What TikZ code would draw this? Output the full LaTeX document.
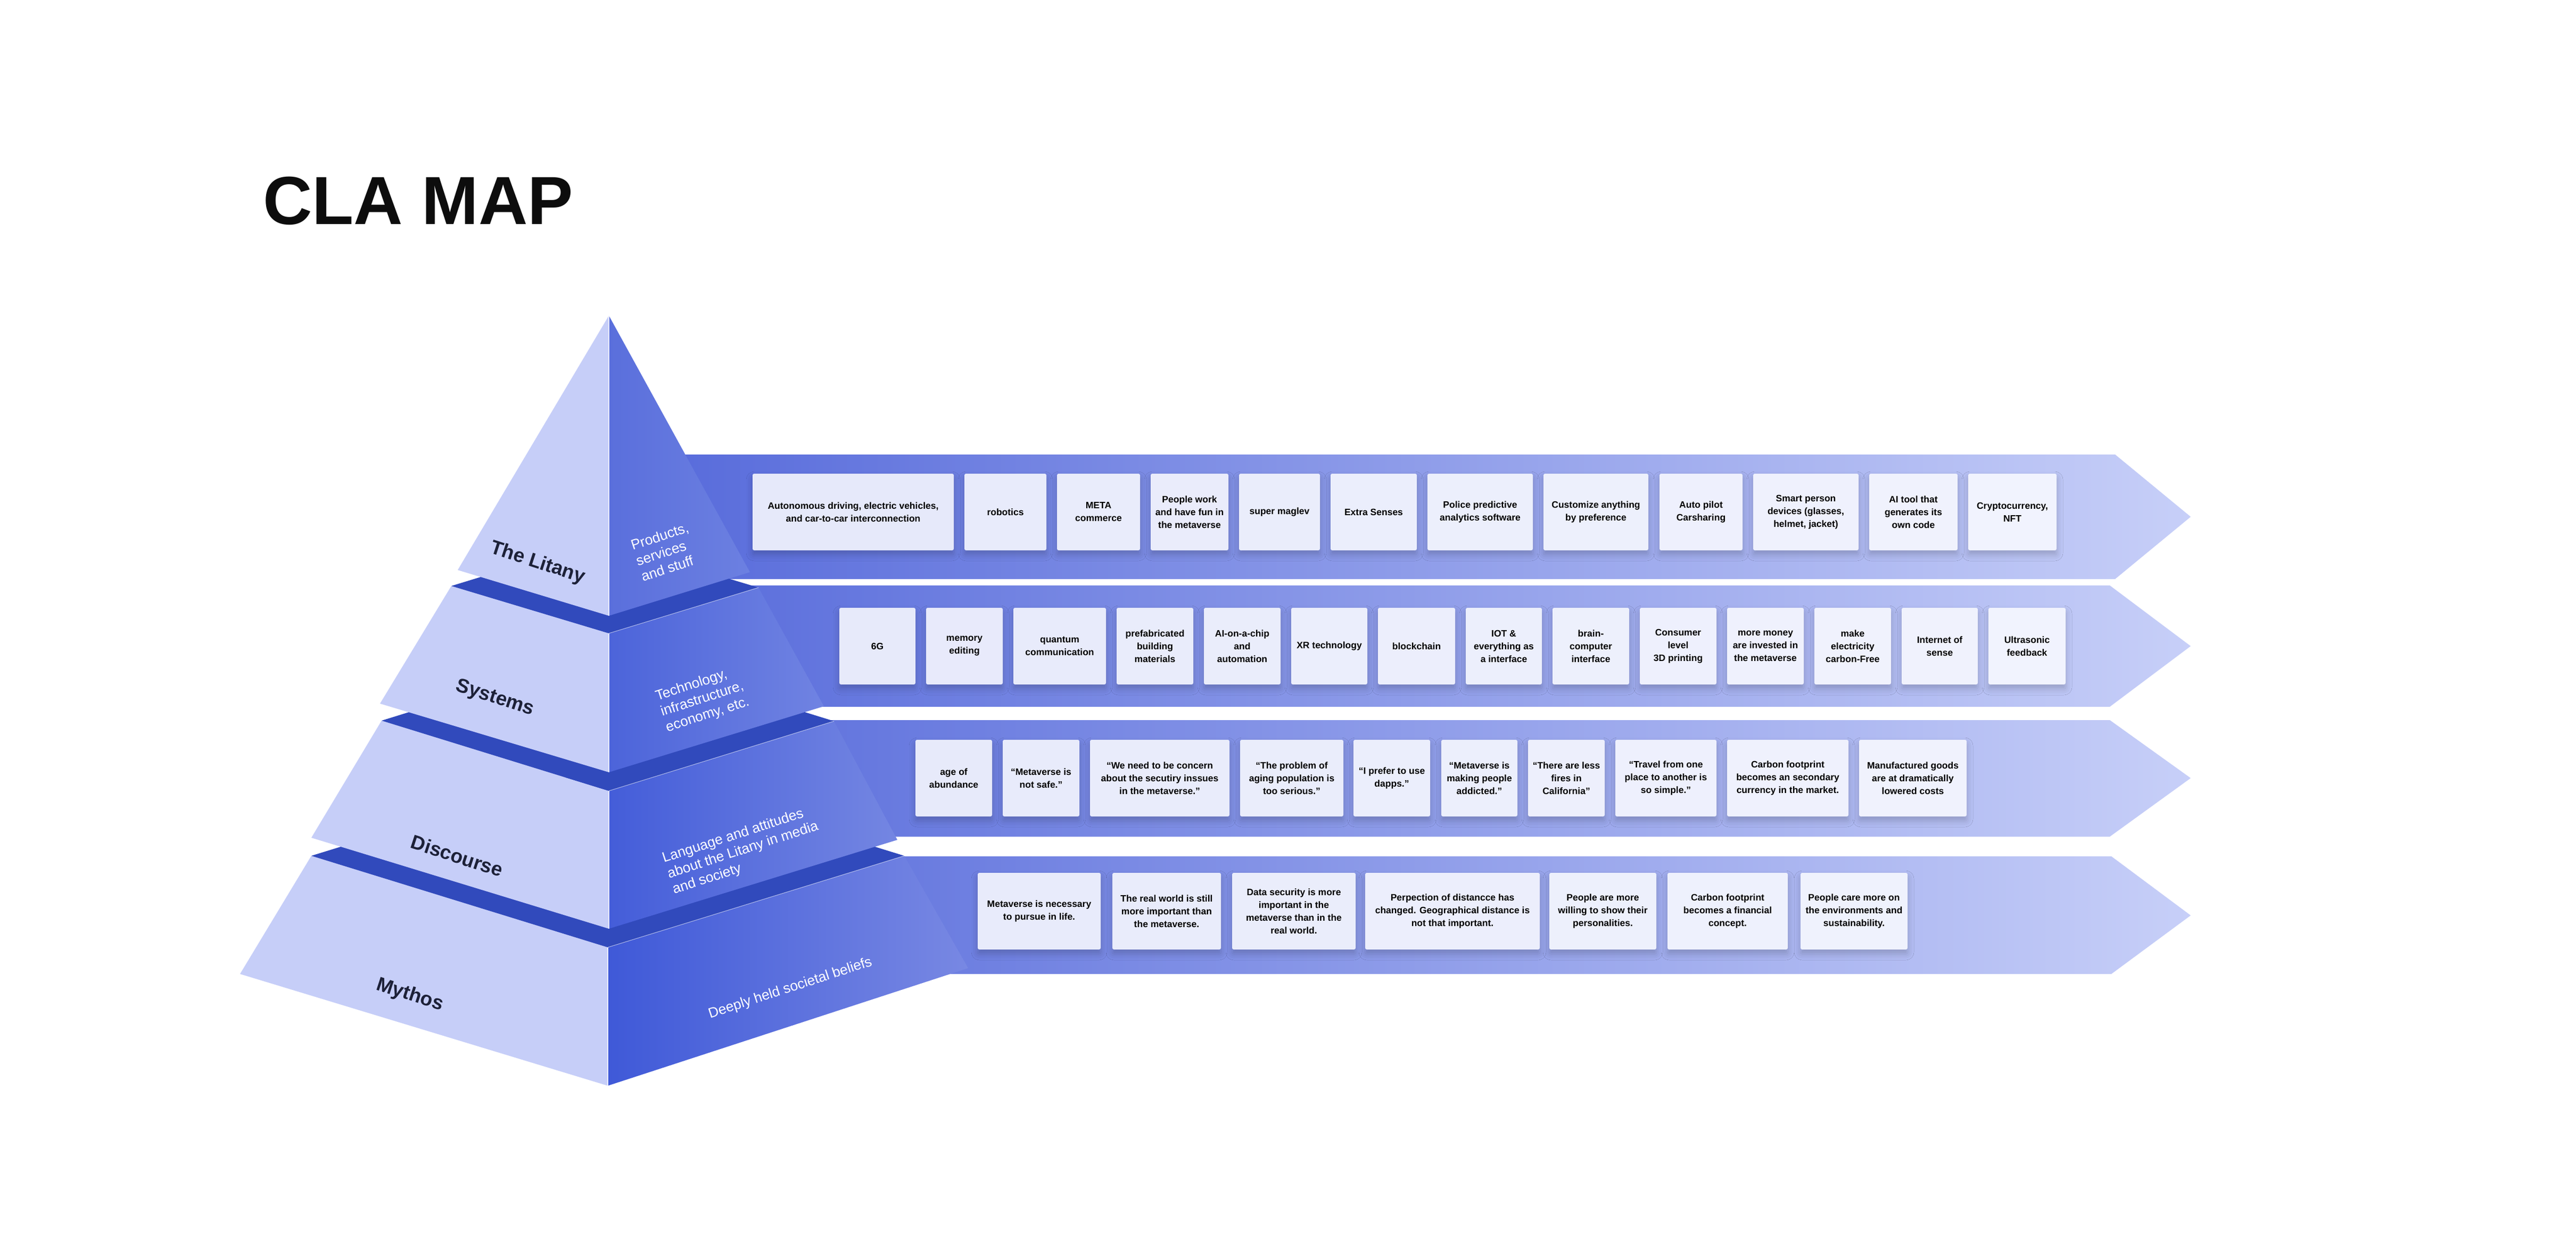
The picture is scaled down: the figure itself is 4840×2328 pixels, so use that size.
\documentclass[tikz,border=0pt]{standalone}
\usepackage{fontspec}
\setmainfont{Liberation Sans}
\usetikzlibrary{shadows.blur}
\definecolor{leftface}{HTML}{C6CEF8}
\definecolor{topface}{HTML}{314ABC}
\definecolor{bandL}{HTML}{5468DA}
\definecolor{bandR}{HTML}{C7CFF8}
\definecolor{noteL}{HTML}{E6E9FA}
\definecolor{noteR}{HTML}{F2F4FE}
\definecolor{labelink}{HTML}{1D2138}
\definecolor{titleink}{HTML}{0D0D0D}
\newcommand{\cnote}[5]{%
  \pgfmathsetmacro\cnw{#3-#2}%
  \pgfmathsetmacro\cnx{(#2+#3)/2}%
  \pgfmathtruncatemacro\cnp{(#2-1400)/25}%
  \node[note, minimum width=\cnw pt, fill=noteR!\cnp!noteL] (#1) at (\cnx,#4) {#5};%
}
\begin{document}
\begin{tikzpicture}[x=1pt,y=-1pt,
  note/.style={rectangle, rounded corners=3pt, minimum height=144pt, inner sep=0pt,
    align=center, text=black, font=\bfseries\fontsize{17.5}{24}\selectfont,
    blur shadow={shadow xshift=0pt, shadow yshift=-8pt, shadow blur radius=12pt, shadow opacity=20}},
  layername/.style={font=\bfseries\fontsize{37}{40}\selectfont, text=labelink, rotate=-18, inner sep=0pt},
  layerdesc/.style={font=\fontsize{26.5}{31}\selectfont, text=white, align=left, rotate=18, inner sep=0pt},
  band/.style={left color=bandL, right color=bandR},
  edgeline/.style={draw=white, line width=1.5pt, opacity=0.8},
  rimline/.style={draw=white, line width=1pt, opacity=0.6}
]
\fill[white] (0,0) rectangle (4840,2328);
\useasboundingbox (0,0) rectangle (4840,2328);

% title
\node[anchor=base west, font=\bfseries\fontsize{128}{128}\selectfont, text=titleink, inner sep=0pt] (title) at (494,421) {CLA MAP};

% bands (arrows)
\shade[band] (1144,854) -- (3974,854) -- (4116,971) -- (3974,1088) -- (1144,1088) -- cycle;
\shade[band] (1144,1100) -- (3964,1100) -- (4116,1214) -- (3964,1328) -- (1144,1328) -- cycle;
\shade[band] (1144,1353) -- (3964,1353) -- (4116,1462) -- (3964,1572) -- (1144,1572) -- cycle;
\shade[band] (1144,1609) -- (3967,1609) -- (4116,1720) -- (3967,1830) -- (1144,1830) -- cycle;

% pyramid: Mythos
\fill[leftface] (585,1608) -- (1142,1780) -- (1142,2040) -- (451,1830) -- cycle;
\shade[left color={rgb,255:red,63;green,89;blue,216}, right color={rgb,255:red,120;green,136;blue,227}]
  (1142,1780) -- (1699,1608) -- (1819,1819) -- (1142,2040) -- cycle;
\fill[topface] (585,1608) -- (1142,1780) -- (1699,1608) -- (1142,1436) -- cycle;
\draw[edgeline] (1142,1780) -- (1142,2040);
\draw[rimline] (1142,1780) -- (1699,1608);
% Discourse
\fill[leftface] (717,1354) -- (1144,1486) -- (1144,1745) -- (585,1574) -- cycle;
\shade[left color={rgb,255:red,68;green,93;blue,217}, right color={rgb,255:red,116;green,134;blue,226}]
  (1144,1486) -- (1567,1355) -- (1686,1578) -- (1144,1745) -- cycle;
\fill[topface] (717,1354) -- (1144,1486) -- (1567,1355) -- (1140,1223) -- cycle;
\draw[edgeline] (1144,1486) -- (1144,1745);
\draw[rimline] (1144,1486) -- (1567,1355);
% Systems
\fill[leftface] (848,1101) -- (1144,1190) -- (1144,1451) -- (714,1322) -- cycle;
\shade[left color={rgb,255:red,76;green,100;blue,218}, right color={rgb,255:red,112;green,131;blue,226}]
  (1144,1190) -- (1425,1104) -- (1548,1327) -- (1144,1451) -- cycle;
\fill[topface] (848,1101) -- (1144,1190) -- (1425,1104) -- (1129,1015) -- cycle;
\draw[edgeline] (1144,1190) -- (1144,1451);
\draw[rimline] (1144,1190) -- (1425,1104);
% Litany
\fill[leftface] (1144,593) -- (1144,1157) -- (860,1071) -- cycle;
\shade[left color={rgb,255:red,90;green,111;blue,220}, right color={rgb,255:red,108;green,128;blue,225}]
  (1144,593) -- (1409,1075) -- (1144,1157) -- cycle;
\draw[edgeline] (1144,593) -- (1144,1157);

% layer names
\node[layername] (lit) at (1010,1058) {The Litany};
\node[layername] (sys) at (930,1312) {Systems};
\node[layername] (dis) at (859,1608) {Discourse};
\node[layername] (myt) at (770,1870) {Mythos};
\node[layerdesc] (litd) at (1249,1037) {Products,\\services\\and stuff};
\node[layerdesc] (sysd) at (1320,1314) {Technology,\\infrastructure,\\economy, etc.};
\node[layerdesc] (disd) at (1396,1598) {Language and attitudes\\about the Litany in media\\and society};
\node[layerdesc] (mytd) at (1485,1857) {Deeply held societal beliefs};

% row 1: Litany
\cnote{a1}{1414}{1792}{962}{Autonomous driving, electric vehicles,\\and car-to-car interconnection}
\cnote{a2}{1812}{1966}{962}{robotics}
\cnote{a3}{1986}{2142}{962}{META\\commerce}
\cnote{a4}{2162}{2308}{962}{People work\\and have fun in\\the metaverse}
\cnote{a5}{2328}{2480}{962}{super maglev}
\cnote{a6}{2500}{2662}{962}{Extra Senses}
\cnote{a7}{2682}{2880}{962}{Police predictive\\analytics software}
\cnote{a8}{2900}{3097}{962}{Customize anything\\by preference}
\cnote{a9}{3118}{3274}{962}{Auto pilot\\Carsharing}
\cnote{a10}{3294}{3492}{962}{Smart person\\devices (glasses,\\helmet, jacket)}
\cnote{a11}{3512}{3678}{962}{AI tool that\\generates its\\own code}
\cnote{a12}{3698}{3864}{962}{Cryptocurrency,\\NFT}

% row 2: Systems
\cnote{b1}{1577}{1720}{1214}{6G}
\cnote{b2}{1740}{1884}{1214}{memory\\editing}
\cnote{b3}{1904}{2078}{1214}{quantum\\communication}
\cnote{b4}{2098}{2242}{1214}{prefabricated\\building\\materials}
\cnote{b5}{2262}{2406}{1214}{AI-on-a-chip\\and\\automation}
\cnote{b6}{2426}{2569}{1214}{XR technology}
\cnote{b7}{2589}{2734}{1214}{blockchain}
\cnote{b8}{2754}{2897}{1214}{IOT \&\\everything as\\a interface}
\cnote{b9}{2917}{3061}{1214}{brain-\\computer\\interface}
\cnote{b10}{3081}{3225}{1214}{Consumer\\level\\3D printing}
\cnote{b11}{3245}{3389}{1214}{more money\\are invested in\\the metaverse}
\cnote{b12}{3409}{3553}{1214}{make\\electricity\\carbon-Free}
\cnote{b13}{3573}{3716}{1214}{Internet of\\sense}
\cnote{b14}{3736}{3881}{1214}{Ultrasonic\\feedback}

% row 3: Discourse
\cnote{c1}{1720}{1864}{1462}{age of\\abundance}
\cnote{c2}{1884}{2028}{1462}{“Metaverse is\\not safe.”}
\cnote{c3}{2048}{2310}{1462}{“We need to be concern\\about the secutiry inssues\\in the metaverse.”}
\cnote{c4}{2330}{2524}{1462}{“The problem of\\aging population is\\too serious.”}
\cnote{c5}{2543}{2687}{1462}{“I prefer to use\\dapps.”}
\cnote{c6}{2708}{2851}{1462}{“Metaverse is\\making people\\addicted.”}
\cnote{c7}{2871}{3015}{1462}{“There are less\\fires in\\California”}
\cnote{c8}{3035}{3225}{1462}{“Travel from one\\place to another is\\so simple.”}
\cnote{c9}{3245}{3473}{1462}{Carbon footprint\\becomes an secondary\\currency in the market.}
\cnote{c10}{3493}{3695}{1462}{Manufactured goods\\are at dramatically\\lowered costs}

% row 4: Mythos
\cnote{d1}{1837}{2068}{1712}{Metaverse is necessary\\to pursue in life.}
\cnote{d2}{2090}{2294}{1712}{The real world is still\\more important than\\the metaverse.}
\cnote{d3}{2315}{2547}{1712}{Data security is more\\important in the\\metaverse than in the\\real world.}
\cnote{d4}{2565}{2893}{1712}{Perpection of distancce has\\changed. Geographical distance is\\not that important.}
\cnote{d5}{2911}{3112}{1712}{People are more\\willing to show their\\personalities.}
\cnote{d6}{3133}{3359}{1712}{Carbon footprint\\becomes a financial\\concept.}
\cnote{d7}{3383}{3584}{1712}{People care more on\\the environments and\\sustainability.}
\end{tikzpicture}
\end{document}
